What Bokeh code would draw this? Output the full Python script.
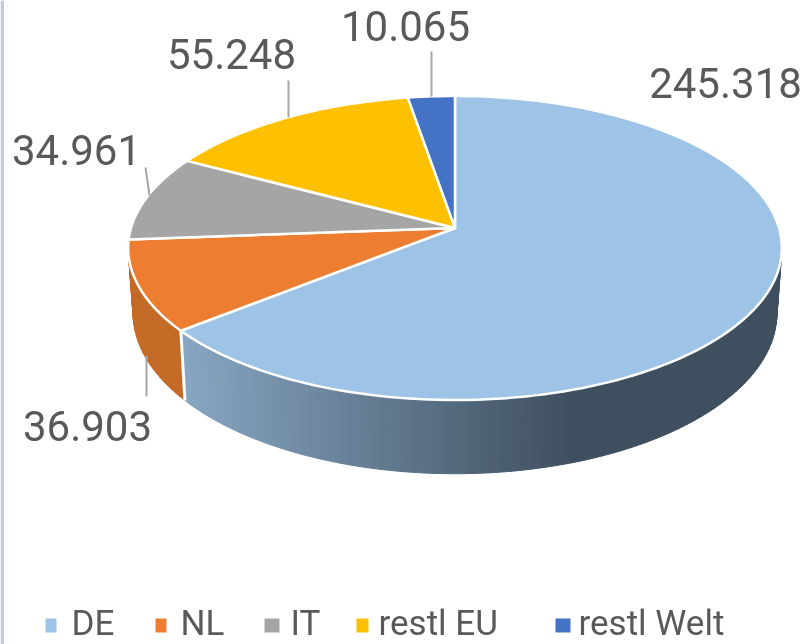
import math
from bokeh.plotting import figure
from bokeh.core.properties import value
from bokeh.embed import file_html
from bokeh.resources import INLINE

categories = ["DE", "NL", "IT", "restl EU", "restl Welt"]
values = [245318, 36903, 34961, 55248, 10065]
labels = ["245.318", "36.903", "34.961", "55.248", "10.065"]
colors = ["#9DC3E6", "#ED7D31", "#A5A5A5", "#FFC000", "#4472C4"]
side_orange = "#C46A27"
text_color = "#595959"
leader_color = "#A6A6A6"
FONT = "Roboto"

# pie projection (pixel-like data space, y grows downwards)
CX, CY, A, B, K, D = 454.5, 227.5, 324, 149.4, 0.1316, 64
W, H = 803, 644

def top(theta):
    u, v = math.sin(theta), math.cos(theta)
    w = 1 + K * v
    return CX + A * u / w, CY - B * v / w

def bottom(theta):
    u, v = math.sin(theta), math.cos(theta)
    w = 1 + K * v
    return CX + 0.985 * A * u / w, CY - B * v / w + D / w

def lerp_hex(c1, c2, t):
    t = max(0, min(1, t))
    a = [int(c1[i:i+2], 16) for i in (1, 3, 5)]
    b = [int(c2[i:i+2], 16) for i in (1, 3, 5)]
    return "#%02x%02x%02x" % tuple(round(x + (y - x) * t) for x, y in zip(a, b))

total = sum(values)
bounds = [0.0]
for val in values:
    bounds.append(bounds[-1] + 2 * math.pi * val / total)

p = figure(width=W, height=H, x_range=(0, W), y_range=(H, 0), output_backend="svg",
           toolbar_location=None, min_border=0, outline_line_color=None,
           styles={"position": "fixed", "left": "0px", "top": "0px"})
p.axis.visible = False
p.grid.visible = False

# left window edge
p.quad(left=[0], right=[3.5], top=[0], bottom=[H], fill_color="#C4CAD6", line_color=None)

# side walls
def strip(t0, t1, color):
    a0, a1 = top(t0), top(t1)
    b0, b1 = bottom(t0), bottom(t1)
    p.patch([a0[0], a1[0], b1[0], b0[0]], [a0[1], a1[1], b1[1], b0[1]],
            fill_color=color, line_color=color, line_width=1)

de_end = bounds[1]
nl_end = bounds[2]
n = 90
t_start = math.radians(78)
for i in range(n):
    t0 = t_start + (de_end - t_start) * i / n
    t1 = t_start + (de_end - t_start) * (i + 1) / n
    xm = 0.5 * (bottom(t0)[0] + bottom(t1)[0])
    strip(t0, t1, lerp_hex("#88A7C3", "#3E4F5F", (182 - xm) / (182 - 570) if xm < 570 else 1))
t_nl_stop = min(nl_end, math.radians(272))
for i in range(24):
    t0 = de_end + (t_nl_stop - de_end) * i / 24
    t1 = de_end + (t_nl_stop - de_end) * (i + 1) / 24
    strip(t0, t1, side_orange)

# separator between the two walls
a, b = top(de_end), bottom(de_end)
p.line([a[0], b[0]], [a[1], b[1]], line_color="white", line_width=3)

# top faces
for i, color in enumerate(colors):
    t0, t1 = bounds[i], bounds[i + 1]
    steps = max(4, int((t1 - t0) / math.radians(1.5)))
    pts = [top(t0 + (t1 - t0) * j / steps) for j in range(steps + 1)]
    xs = [CX] + [q[0] for q in pts]
    ys = [CY] + [q[1] for q in pts]
    p.patch(xs, ys, fill_color=color, line_color="white", line_width=2.5, line_join="round")

# leader lines (from label to slice)
leaders = [None, ((146, 355), (146, 396)), ((145, 167), (149, 195)),
           ((288, 80), (288, 117)), ((431, 51), (431, 96))]
for seg in leaders:
    if seg:
        p.line([seg[0][0], seg[1][0]], [seg[0][1], seg[1][1]], line_color=leader_color, line_width=2)

# data labels
label_x = [725, 87, 76, 231, 405]
label_y = [82, 425, 149, 53, 25]
p.text(x=label_x, y=label_y, text=labels, text_font=value(FONT), text_font_size="42px",
       text_color=text_color, text_align="center", text_baseline="middle")

# legend
sw_left = [45, 155, 264, 356, 555]
sw_right = [56, 166, 279, 368, 570]
p.quad(left=sw_left, right=sw_right, top=[618] * 5, bottom=[632] * 5, fill_color=colors, line_color=None)
leg_x = [71, 180, 290, 378, 578]
p.text(x=leg_x, y=[623] * 5, text=categories, text_font=value(FONT), text_font_size="35px",
       text_color=text_color, text_align="left", text_baseline="middle")

open("out.html", "w").write(file_html(p, INLINE))
